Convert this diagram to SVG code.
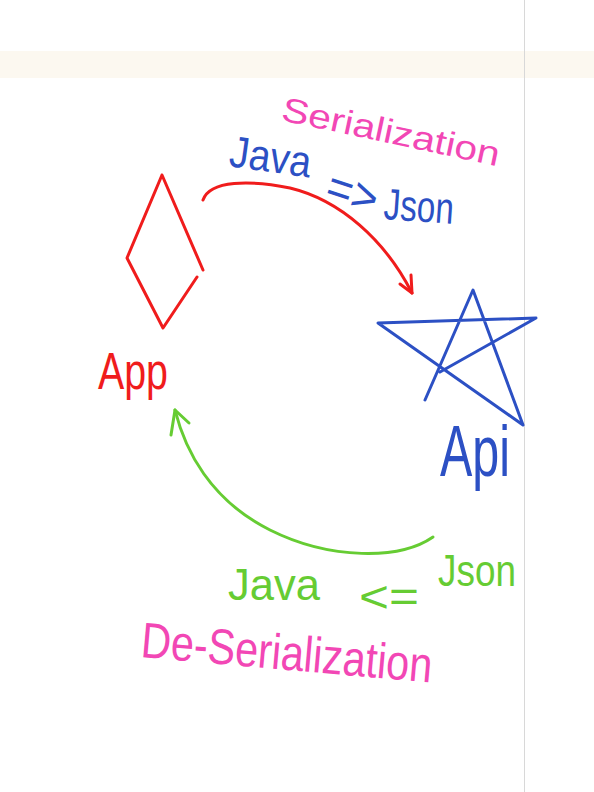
<svg xmlns="http://www.w3.org/2000/svg" width="594" height="792" viewBox="0 0 594 792">
<style>
.s{fill:none;stroke-width:3;stroke-linecap:round;stroke-linejoin:round}
.red{stroke:#f01c1c}.blue{stroke:#2c50c4}.green{stroke:#66cc33}
.t{font-family:"Liberation Sans","DejaVu Sans",sans-serif}
.tr{fill:#f01c1c}.tb{fill:#2c50c4}.tg{fill:#66cc33}.tp{fill:#f247b5}
</style>
<rect width="594" height="792" fill="#ffffff"/>
<rect x="0" y="51" width="594" height="27" fill="#fcf8f0"/>
<line x1="524.5" y1="0" x2="524.5" y2="792" stroke="#d8d8d8" stroke-width="1"/>

<g id="app">
<path class="s red" d="M203,270 L162,175 L127,258 L163,328 L197,277"/>
<text class="t tr" x="98" y="389" font-size="52" textLength="70" lengthAdjust="spacingAndGlyphs">App</text>
</g>

<g id="api">
<path class="s blue" d="M425,400 L473,290 L523,425 L378,323 L536,318 L440,372"/>
<text class="t tb" x="440" y="476" font-size="72" textLength="70" lengthAdjust="spacingAndGlyphs">Api</text>
</g>

<g id="connectors">
<path class="s red" d="M203,200 C210,180 250,180 290,188 C340,200 385,240 412,293"/>
<path class="s red" d="M400,284 L412,293 L411,275"/>
<path class="s green" d="M433,537 C400,560 330,560 270,530 C210,500 185,450 175,410"/>
<path class="s green" d="M171,435 L175,410 L189,423"/>
</g>

<g id="labels">
<text class="t tp" font-size="34" transform="translate(280,120) rotate(12)" textLength="222" lengthAdjust="spacingAndGlyphs">Serialization</text>
<text class="t tb" font-size="44" transform="translate(228,166) rotate(8)" textLength="82" lengthAdjust="spacingAndGlyphs">Java</text>
<text class="t tb" font-size="48" transform="translate(323,200) rotate(18)" textLength="52" lengthAdjust="spacingAndGlyphs">=&gt;</text>
<text class="t tb" font-size="44" transform="translate(383,219) rotate(4)" textLength="70" lengthAdjust="spacingAndGlyphs">Json</text>
<text class="t tg" font-size="44" x="438" y="586" textLength="78" lengthAdjust="spacingAndGlyphs">Json</text>
<text class="t tg" font-size="44" x="359" y="612" textLength="60" lengthAdjust="spacingAndGlyphs">&lt;=</text>
<text class="t tg" font-size="44" x="228" y="600" textLength="92" lengthAdjust="spacingAndGlyphs">Java</text>
<text class="t tp" font-size="50" transform="translate(140,657) rotate(5)" textLength="292" lengthAdjust="spacingAndGlyphs">De-Serialization</text>
</g>
</svg>
